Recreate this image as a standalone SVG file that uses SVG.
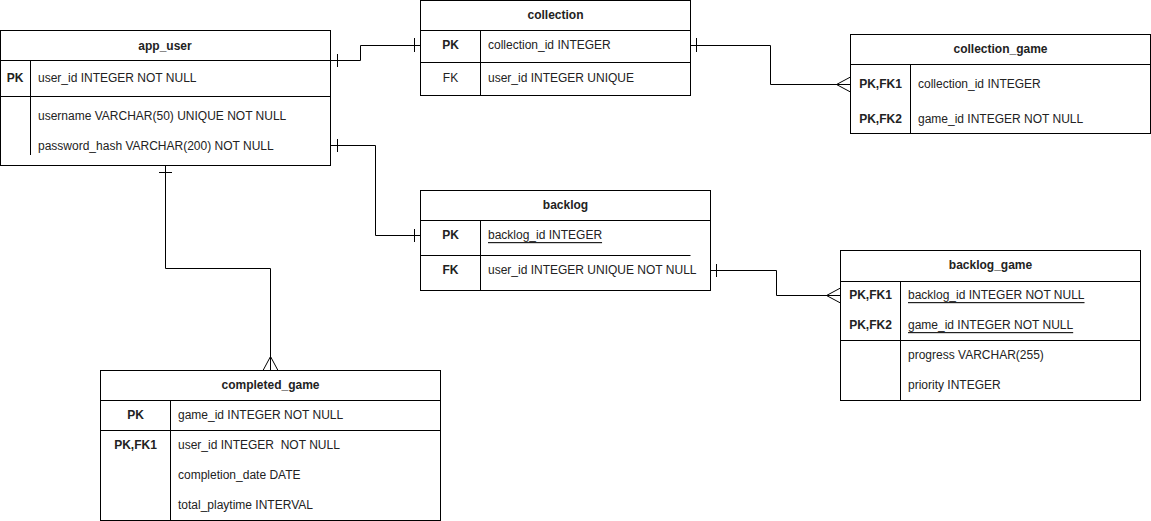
<svg xmlns="http://www.w3.org/2000/svg" width="1151" height="521" viewBox="0 0 1151 521">
<style>
.box{fill:#fff;stroke:#000;stroke-width:1}
.ln{stroke:#000;stroke-width:1;fill:none}
text{font-family:"Liberation Sans",Arial,sans-serif;font-size:12px;fill:#222;dominant-baseline:central}
.h{font-weight:bold;text-anchor:middle}
.k{font-weight:bold;text-anchor:middle}
.u{text-decoration:underline}
</style>
<rect width="1151" height="521" fill="#fff"/>
<g id="connectors" class="ln">
  <!-- app_user -> collection -->
  <path d="M330.5 60.5 H360.5 V45.5 H420.5"/>
  <path d="M337.5 54 V67 M414.5 38 V52"/>
  <!-- collection -> collection_game -->
  <path d="M690.5 45.5 H770.5 V84.5 H850.5"/>
  <path d="M696.5 38 V52"/>
  <path d="M850.5 77 L836.5 84.5 L850.5 92"/>
  <!-- app_user -> backlog -->
  <path d="M330.5 145.5 H375.5 V235.5 H420.5"/>
  <path d="M337.5 139 V152 M414.5 229 V242"/>
  <!-- backlog -> backlog_game -->
  <path d="M710.5 270.5 H776.5 V295.5 H840.5"/>
  <path d="M716.5 264 V277"/>
  <path d="M840.5 288 L826.5 295.5 L840.5 303"/>
  <!-- app_user -> completed_game -->
  <path d="M165.5 165.5 V268.5 H270.5 V370.5"/>
  <path d="M159 172.5 H172"/>
  <path d="M263 370.5 L270.5 356.5 L278 370.5"/>
</g>
<g id="app_user">
  <rect class="box" x="0.5" y="30.5" width="330" height="135"/>
  <path class="ln" d="M0.5 60.5 H330.5 M0.5 96.5 H330.5 M30.5 60.5 V155"/>
  <text class="h" x="165" y="45.5">app_user</text>
  <text class="k" x="15" y="78">PK</text>
  <text x="38" y="78">user_id INTEGER NOT NULL</text>
  <text x="38" y="115.5">username VARCHAR(50) UNIQUE NOT NULL</text>
  <text x="38" y="145.5">password_hash VARCHAR(200) NOT NULL</text>
</g>
<g id="collection">
  <rect class="box" x="420.5" y="0.5" width="270" height="95"/>
  <path class="ln" d="M420.5 30.5 H690.5 M420.5 62.5 H690.5 M480.5 30.5 V95.5"/>
  <text class="h" x="555.5" y="15">collection</text>
  <text class="k" x="450.5" y="45">PK</text>
  <text x="488" y="45">collection_id INTEGER</text>
  <text class="k" x="450.5" y="77.5" style="font-weight:normal">FK</text>
  <text x="488" y="77.5">user_id INTEGER UNIQUE</text>
</g>
<g id="collection_game">
  <rect class="box" x="850.5" y="34.5" width="300" height="99"/>
  <path class="ln" d="M850.5 64.5 H1150.5 M910.5 64.5 V133.5"/>
  <text class="h" x="1000.5" y="49">collection_game</text>
  <text class="k" x="880.5" y="84">PK,FK1</text>
  <text x="918" y="84">collection_id INTEGER</text>
  <text class="k" x="880.5" y="119">PK,FK2</text>
  <text x="918" y="119">game_id INTEGER NOT NULL</text>
</g>
<g id="backlog">
  <rect class="box" x="420.5" y="190.5" width="290" height="100"/>
  <path class="ln" d="M420.5 220.5 H710.5 M420.5 255.5 H690.5 M480.5 220.5 V290.5"/>
  <text class="h" x="565.5" y="205">backlog</text>
  <text class="k" x="450.5" y="235">PK</text>
  <text class="u" x="488" y="235">backlog_id INTEGER</text>
  <text class="k" x="450.5" y="269.5">FK</text>
  <text x="488" y="269.5">user_id INTEGER UNIQUE NOT NULL</text>
</g>
<g id="backlog_game">
  <rect class="box" x="840.5" y="250.5" width="300" height="150"/>
  <path class="ln" d="M840.5 281.5 H1140.5 M840.5 340.5 H1140.5 M900.5 281.5 V400.5"/>
  <text class="h" x="990.5" y="265">backlog_game</text>
  <text class="k" x="870.5" y="295">PK,FK1</text>
  <text class="u" x="908" y="295">backlog_id INTEGER NOT NULL</text>
  <text class="k" x="870.5" y="325">PK,FK2</text>
  <text class="u" x="908" y="325">game_id INTEGER NOT NULL</text>
  <text x="908" y="355">progress VARCHAR(255)</text>
  <text x="908" y="385">priority INTEGER</text>
</g>
<g id="completed_game">
  <rect class="box" x="100.5" y="370.5" width="340" height="150"/>
  <path class="ln" d="M100.5 400.5 H440.5 M100.5 430.5 H440.5 M170.5 400.5 V520.5"/>
  <text class="h" x="270.5" y="385">completed_game</text>
  <text class="k" x="135.5" y="415">PK</text>
  <text x="178" y="415">game_id INTEGER NOT NULL</text>
  <text class="k" x="135.5" y="445">PK,FK1</text>
  <text x="178" y="445" xml:space="preserve">user_id INTEGER  NOT NULL</text>
  <text x="178" y="475">completion_date DATE</text>
  <text x="178" y="505">total_playtime INTERVAL</text>
</g>
</svg>
